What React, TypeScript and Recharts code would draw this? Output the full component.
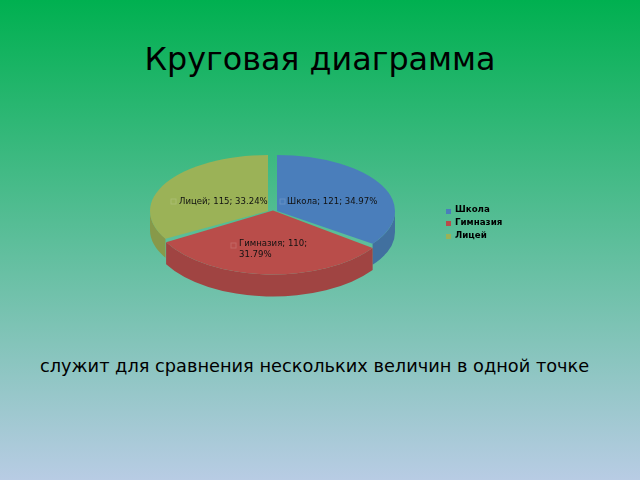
import React from 'react';
import { PieChart, Pie, Legend } from 'recharts';

const categories = ['Школа', 'Гимназия', 'Лицей'];
const values = [121, 110, 115];

const faceColors = ['#4a7ebb', '#b94d4a', '#9bb257'];
const wallColors = ['#41709f', '#a04442', '#87994a'];

// the slices are pulled apart and squashed to look 3D
const sliceGeometry: Record<string, any> = {
  'Школа': { dx: 277, dy: 211, rx: 118, ry: 56, depth: 21 },
  'Гимназия': { dx: 273, dy: 210.5, rx: 123, ry: 64, depth: 22 },
  'Лицей': { dx: 268, dy: 211, rx: 118, ry: 56, depth: 19 },
};
const labelPos: Record<string, any> = {
  'Школа': { x: 287, y: 204, kx: 280, ky: 199 },
  'Гимназия': { x: 239, y: 246, kx: 231, ky: 243 },
  'Лицей': { x: 179, y: 204, kx: 171, ky: 199 },
};

const chartData = categories.map((name, i) => ({ name, value: values[i], fill: faceColors[i] }));

function Slice3D(props: any) {
  const { startAngle, endAngle, fill, name } = props;
  const g = sliceGeometry[name];
  const pt = (a: number, d = 0) => {
    const r = (a * Math.PI) / 180;
    return `${g.dx + g.rx * Math.cos(r)} ${g.dy - g.ry * Math.sin(r) + d}`;
  };
  const large = Math.abs(startAngle - endAngle) > 180 ? 1 : 0;
  const face = `M${g.dx} ${g.dy} L${pt(startAngle)} A${g.rx} ${g.ry} 0 ${large} 1 ${pt(endAngle)} Z`;

  // outer wall only shows on the lower half of the ellipse
  const a0 = Math.min(startAngle, 0);
  const a1 = Math.max(endAngle, -180);
  const wall = `M${pt(a0)} A${g.rx} ${g.ry} 0 0 1 ${pt(a1)} L${pt(a1, g.depth)} A${g.rx} ${g.ry} 0 0 0 ${pt(a0, g.depth)} Z`;

  return (
    <g>
      <path d={wall} fill={wallColors[categories.indexOf(name)]} />
      <path d={face} fill={fill} />
    </g>
  );
}

function SliceLabel(props: any) {
  const { name, value, percent } = props;
  const p = labelPos[name];
  const pct = (percent * 100).toFixed(2);
  const style = { fontFamily: 'DejaVu Sans', fontSize: 8.55, fill: '#111' };
  const key = <rect x={p.kx} y={p.ky} width={5} height={5} fill={faceColors[categories.indexOf(name)]} stroke="#fff" strokeOpacity={0.15} />;
  if (name === 'Гимназия') {
    return (
      <g>
        {key}
        <text x={p.x} y={p.y} style={style}>
          <tspan x={p.x}>{`${name}; ${value};`}</tspan>
          <tspan x={p.x} dy={10.5}>{`${pct}%`}</tspan>
        </text>
      </g>
    );
  }
  return (
    <g>
      {key}
      <text x={p.x} y={p.y} style={style}>
        {`${name}; ${value}; ${pct}%`}
      </text>
    </g>
  );
}

export default function App() {
  return (
    <div
      style={{
        position: 'absolute',
        left: 0,
        top: 0,
        width: 640,
        height: 480,
        overflow: 'hidden',
        background: 'linear-gradient(180deg, #00b050 0%, #b8cce4 100%)',
        fontFamily: 'DejaVu Sans',
        color: '#000',
      }}
    >
      <div style={{ position: 'absolute', left: 0, width: 640, top: 40, textAlign: 'center', fontSize: 31.8 }}>
        Круговая диаграмма
      </div>
      <div style={{ position: 'absolute', left: 40, top: 356, fontSize: 17.75, whiteSpace: 'nowrap' }}>
        служит для сравнения нескольких величин в одной точке
      </div>
      <div style={{ position: 'absolute', left: 0, top: 0, filter: 'blur(0.35px)' }}>
        <PieChart width={640} height={480}>
          <Pie
            data={chartData}
            dataKey="value"
            nameKey="name"
            cx={273}
            cy={210}
            outerRadius={118}
            startAngle={90}
            endAngle={-270}
            stroke="none"
            shape={Slice3D}
            label={SliceLabel}
            labelLine={false}
            isAnimationActive={false}
          />
          <Legend
            layout="vertical"
            iconType="square"
            iconSize={5}
            itemSorter={null}
            formatter={(v: string) => (
              <span style={{ color: '#000', fontSize: 8.7, fontWeight: 700 }}>{v}</span>
            )}
            wrapperStyle={{ position: 'absolute', left: 446, top: 204, width: 70, fontSize: 3, lineHeight: '10.8px' }}
          />
        </PieChart>
      </div>
    </div>
  );
}
